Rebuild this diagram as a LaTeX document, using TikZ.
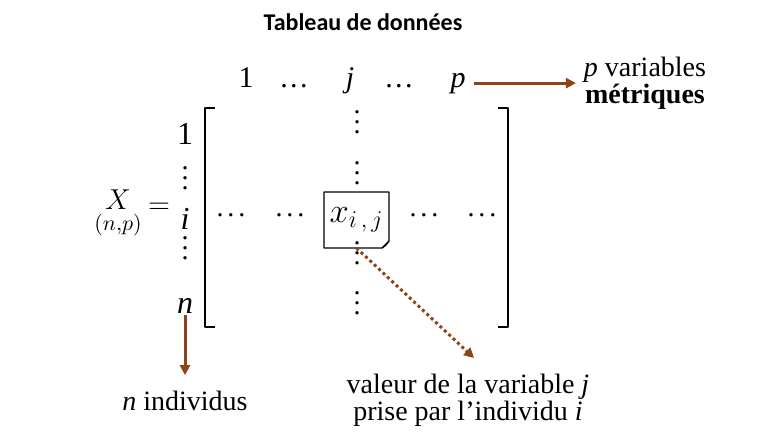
\documentclass[tikz,border=0pt]{standalone}
\usepackage{amsmath}
\usepackage{fontspec}
\setmainfont{Liberation Serif}
\newfontfamily\titrefont{Carlito}
\usetikzlibrary{arrows.meta}
\definecolor{brun}{RGB}{140,68,24}
\newcommand\pointsv{\vbox{\baselineskip5pt\lineskiplimit0pt\hbox{.}\hbox{.}\hbox{.}}}
\newcommand\pointsh[1]{.\kern#1.\kern#1.}
\begin{document}
\begin{tikzpicture}[x=0.5pt,y=-0.5pt,>={Triangle[length=5pt,width=5pt]},line join=round]
	\tikzset{every node/.style={inner sep=1pt,outer sep=0pt,font=\fontsize{14}{13.5}\selectfont},
		fleche/.style={->,draw=brun,line width=1.5pt},
		pointille/.style={->,draw=brun,line width=1.5pt,dash pattern=on 1.5pt off 1.5pt},
		entete/.style={anchor=base,font=\fontsize{15}{18}\selectfont},
		ligne/.style={anchor=base,font=\fontsize{16}{18}\selectfont},
		points/.style={inner sep=0pt}}
	\useasboundingbox (0,0) rectangle (760,440);
	\node[font=\titrefont\bfseries\fontsize{12}{14}\selectfont] (titre) at (363,22) {Tableau de données};
	% indices des colonnes
	\node[entete] (c1) at (246,87) {1};
	\node[entete] (cd1) at (294,87) {\pointsh{1.2pt}};
	\node[entete] (cj) at (350,87) {\textit{j}};
	\node[entete] (cd2) at (399,87) {\pointsh{1.2pt}};
	\node[entete] (cp) at (458,87) {\textit{p}};
	\node[align=center] (varp) at (645,83) {\textit{p} variables\\\textbf{métriques}};
	\draw[fleche,shorten <=3pt,shorten >=3pt] (cp.east) -- (cp.east -| varp.west);
	% indices des lignes
	\node[ligne] (r1) at (185,144) {1};
	\node[points] (rv1) at (185,178) {\pointsv};
	\node[ligne] (ri) at (185,229) {\textit{i}};
	\node[points] (rv2) at (185,248) {\pointsv};
	\node[ligne] (rn) at (185,313) {\textit{n}};
	\node[font=\fontsize{15}{18}\selectfont] (X) at (118,214) {$\underset{(n,p)}{X}$};
	\node[font=\fontsize{15}{18}\selectfont] (egal) at (159,208) {$=$};
	% crochets
	\node[minimum width=151.5pt,minimum height=109.5pt] (mat) at (356.5,217.5) {};
	\draw[line width=1pt] ([xshift=5pt]mat.north west) -- (mat.north west) -- (mat.south west) -- ([xshift=5pt]mat.south west);
	\draw[line width=1pt] ([xshift=-5pt]mat.north east) -- (mat.north east) -- (mat.south east) -- ([xshift=-5pt]mat.south east);
	% ligne i et colonne j
	\node[points] (l1) at (231,215) {\pointsh{2pt}};
	\node[points] (l2) at (290,215) {\pointsh{2pt}};
	\node[points] (l3) at (424,215) {\pointsh{2pt}};
	\node[points] (l4) at (482,215) {\pointsh{2pt}};
	\node[points] (v1) at (357,122) {\pointsv};
	\node[points] (v2) at (357,173) {\pointsv};
	\node[points] (v3) at (357,253) {\pointsv};
	\node[points] (v4) at (357,303) {\pointsv};
	\node[minimum width=32.5pt,minimum height=28pt,font=\fontsize{17}{20}\selectfont] (xij) at (356.5,220) {$x_{i\,,\,j}$};
	\draw[line width=0.6pt] (xij.north west) -- (xij.north east) -- ([yshift=3.5pt]xij.south east)
		-- ([xshift=-3.5pt]xij.south east) -- (xij.south west) -- cycle;
	\draw[line width=0.5pt] ([yshift=3.5pt]xij.south east) .. controls ([xshift=-1.5pt,yshift=1.2pt]xij.south east) .. ([xshift=-3.5pt]xij.south east);
	% legendes
	\node (ind) at (185,401) {\textit{n} individus};
	\node[align=center,font=\fontsize{14}{12.5}\selectfont] (val) at (468,400) {valeur de la variable \textit{j}\\prise par l'individu \textit{i}};
	\coordinate (pointe) at (474,358);
	\draw[fleche] (rn) -- ([yshift=7pt]ind.north);
	\draw[pointille] (xij.south) -- (pointe);
\end{tikzpicture}
\end{document}
